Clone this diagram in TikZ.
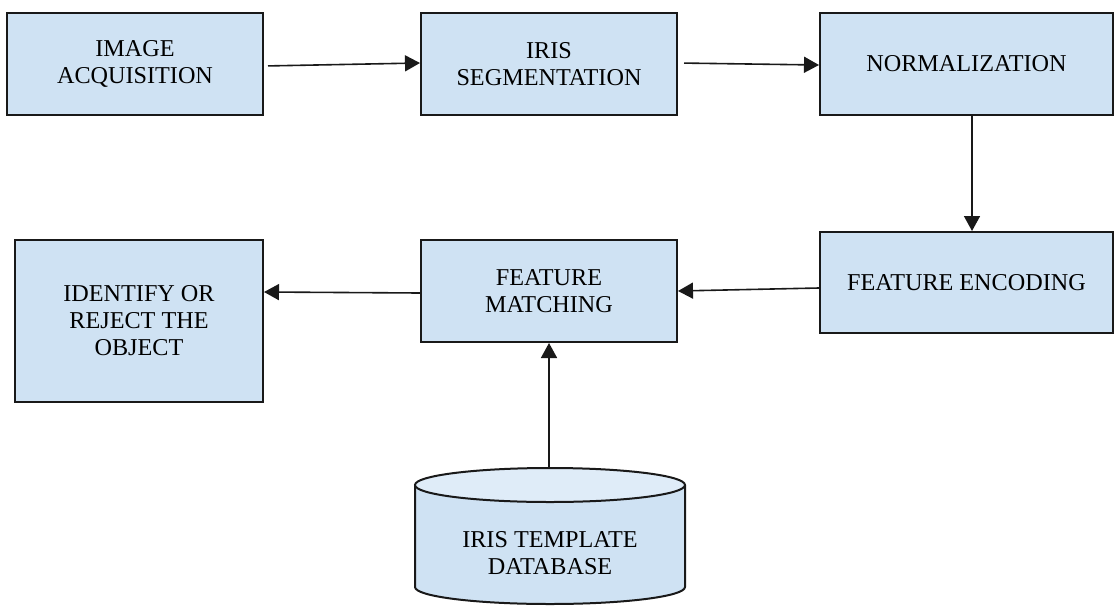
\documentclass[tikz,border=0pt]{standalone}
\usepackage{fontspec}
\setmainfont{Liberation Serif}
\usetikzlibrary{arrows.meta,calc}
\definecolor{boxfill}{RGB}{207,226,243}
\definecolor{topfill}{RGB}{223,236,248}
\definecolor{edge}{RGB}{25,25,25}
\tikzset{
  stagebox/.style={draw=edge, line width=2pt, fill=boxfill, rectangle, inner sep=0pt,
    align=center, font=\fontsize{24.2}{27}\selectfont},
  flow/.style={draw=edge, line width=1.6pt, -{Triangle[length=15pt,width=16pt]}},
  label/.style={align=center, font=\fontsize{24.2}{27}\selectfont, inner sep=0pt}
}
\begin{document}
\begin{tikzpicture}[x=1pt,y=-1pt]
\useasboundingbox (0,0) rectangle (1115,605);
\node[stagebox, minimum width=256pt, minimum height=102pt] (ia) at (135,64) {IMAGE\\ACQUISITION};
\node[stagebox, minimum width=256pt, minimum height=102pt] (is) at (549,64) {IRIS\\SEGMENTATION};
\node[stagebox, minimum width=293pt, minimum height=102pt] (no) at (966.5,64) {NORMALIZATION};
\node[stagebox, minimum width=293pt, minimum height=101pt] (fe) at (966.5,282.5) {FEATURE ENCODING};
\node[stagebox, minimum width=256pt, minimum height=102pt] (fm) at (549,291) {FEATURE\\MATCHING};
\node[stagebox, minimum width=248pt, minimum height=162pt] (ir) at (139,321) {IDENTIFY OR\\REJECT THE\\OBJECT};
% database cylinder
\filldraw[draw=edge, line width=2pt, fill=boxfill]
  (415,485) -- (415,587) arc[start angle=180, end angle=360, x radius=135pt, y radius=17pt]
  -- (685,485);
\filldraw[draw=edge, line width=2pt, fill=topfill] (550,485) ellipse[x radius=135pt, y radius=17pt];
\coordinate (dbtop) at (549,468);
\node[label] (db) at (550,553) {IRIS TEMPLATE\\DATABASE};
% connectors
\draw[flow, shorten <=4pt] ($(ia.east)+(0,2)$) -- ($(is.west)+(0,-1)$);
\draw[flow, shorten <=6pt] ($(is.east)+(0,-1)$) -- ($(no.west)+(0,1)$);
\draw[flow] (no.south -| 972,0) -- (fe.north -| 972,0);
\draw[flow] ($(fe.west)+(0,5.5)$) -- ($(fm.east)+(0,0)$);
\draw[flow] ($(fm.west)+(0,2)$) -- ($(ir.east)+(0,-29)$);
\draw[flow] (dbtop) -- (fm.south);
\end{tikzpicture}
\end{document}
